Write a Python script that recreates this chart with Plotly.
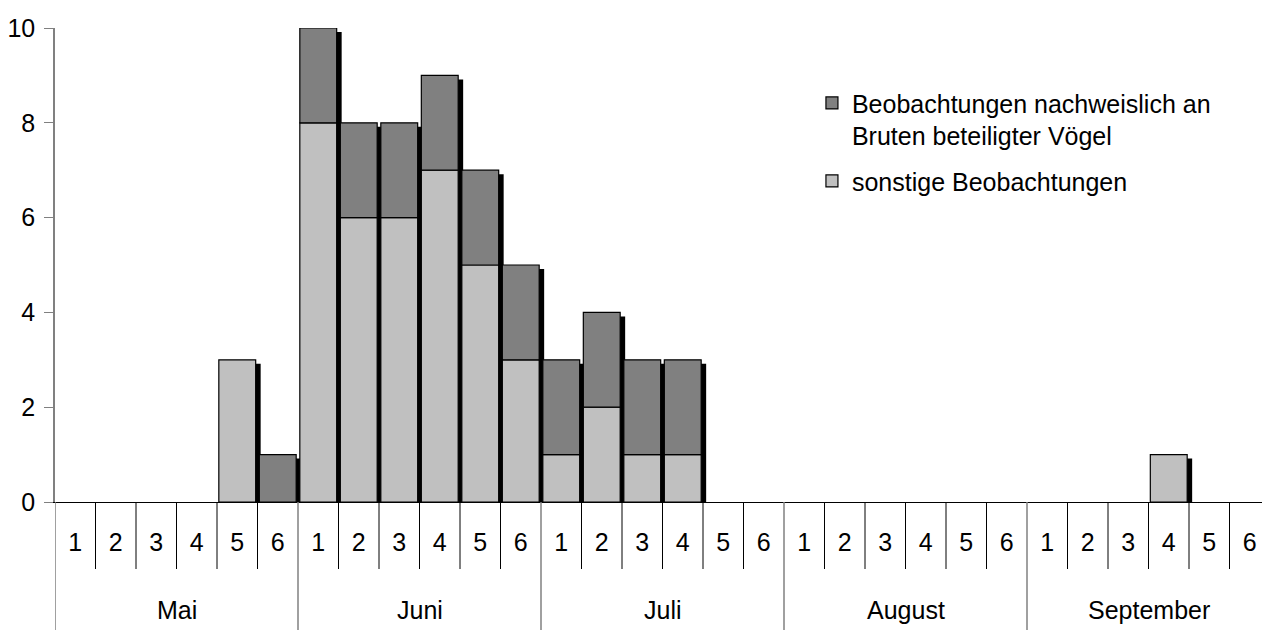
import numpy as np
import plotly.graph_objects as go

months = ["Mai", "Juni", "Juli", "August", "September"]
periods = ["1", "2", "3", "4", "5", "6"]

sonstige = [0, 0, 0, 0, 3, 0,
            8, 6, 6, 7, 5, 3,
            1, 2, 1, 1, 0, 0,
            0, 0, 0, 0, 0, 0,
            0, 0, 0, 1, 0, 0]
brut = [0, 0, 0, 0, 0, 1,
        2, 2, 2, 2, 2, 2,
        2, 2, 2, 2, 0, 0,
        0, 0, 0, 0, 0, 0,
        0, 0, 0, 0, 0, 0]

name_brut = "Beobachtungen nachweislich an<br>Bruten beteiligter Vögel"
name_sonst = "sonstige Beobachtungen"

cats = [f"{m} {p}" for m in months for p in periods]
cat_text = [p for _ in months for p in periods]

light = np.array(sonstige, dtype=float)
dark = np.array(brut, dtype=float)
total = light + dark

BW = 0.91
SH_X = 0.123   # shadow shift (category units)
SH_Y = 0.084   # shadow drop (value units)

def nz(a):
    return [v if v > 0 else None for v in a]

shadow = [t - SH_Y if t > 0 else None for t in total]

fig = go.Figure()
fig.add_trace(go.Bar(x=cats, y=shadow, base=0, width=BW, offset=-BW / 2 + SH_X,
                     marker=dict(color="black", line=dict(width=0)),
                     showlegend=False, hoverinfo="skip"))
fig.add_trace(go.Bar(x=cats, y=nz(light), base=0, width=BW, offset=-BW / 2,
                     name=name_sonst, legendgroup="s", legendrank=2,
                     marker=dict(color="#c0c0c0", line=dict(color="black", width=1.2))))
fig.add_trace(go.Bar(x=cats, y=nz(dark), base=list(light), width=BW, offset=-BW / 2,
                     name=name_brut, legendgroup="b", legendrank=1,
                     marker=dict(color="#808080", line=dict(color="black", width=1.2))))

# page body has an 8px margin; the figure is sized to sit in the 1270x630 window
FIG_W, FIG_H = 1262, 622
M_L, M_T, M_B = 47, 20, 128
PLOT_H = FIG_H - M_T - M_B
n = len(cats)
npm = len(periods)

# month labels and dividers
for i, m in enumerate(months):
    fig.add_annotation(x=i * npm + (npm - 1) / 2, y=-108 / PLOT_H, xref="x", yref="paper",
                       text=m, showarrow=False, yanchor="middle", xanchor="center",
                       font=dict(size=25))
for j in range(n + 1):
    is_month = (j % npm == 0)
    fig.add_shape(type="line", xref="x", yref="paper",
                  x0=j - 0.5, x1=j - 0.5, y0=0,
                  y1=(-M_B / PLOT_H) if is_month else (-67 / PLOT_H),
                  line=dict(color="#808080" if is_month else "black",
                            width=1.5 if is_month else 1))

fig.update_layout(
    width=FIG_W, height=FIG_H,
    margin=dict(l=M_L, r=0, t=M_T, b=M_B),
    barmode="overlay",
    plot_bgcolor="white", paper_bgcolor="white",
    font=dict(family="Liberation Sans, Arial, sans-serif", size=25, color="black"),
    showlegend=True,
    legend=dict(x=0.623, y=0.890, xanchor="left", yanchor="top",
                traceorder="grouped", font=dict(size=25), valign="top",
                bgcolor="rgba(0,0,0,0)", tracegroupgap=10),
)
fig.update_xaxes(
    type="category", categoryorder="array", categoryarray=cats,
    range=[-0.5, n - 0.5],
    tickmode="array", tickvals=cats, ticktext=cat_text,
    showline=True, linecolor="black", linewidth=1,
    ticks="outside", ticklen=18, tickcolor="rgba(0,0,0,0)",
    showgrid=False, zeroline=False, automargin=False,
    tickfont=dict(size=25),
)
fig.update_yaxes(
    range=[0, 10], dtick=2,
    showline=True, linecolor="#808080", linewidth=1.5,
    ticks="outside", ticklen=9, tickcolor="#808080",
    ticklabelstandoff=4,
    showgrid=False, zeroline=False, automargin=False,
    tickfont=dict(size=25),
)

fig.write_html("out.html")
